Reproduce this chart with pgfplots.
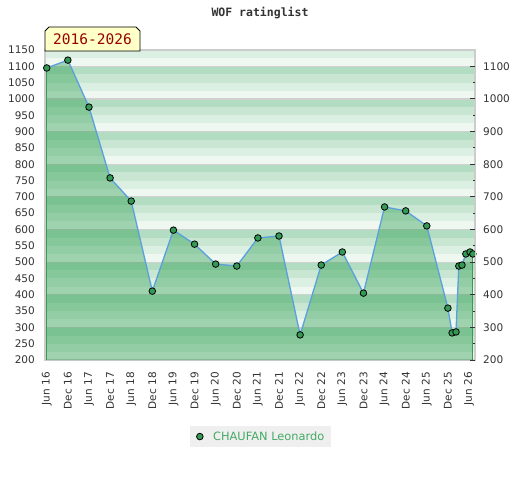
\documentclass[border=0pt]{standalone}
\usepackage{pgfplots}
\pgfplotsset{compat=1.18}
\usepackage{fontspec}
\setmainfont{DejaVu Sans}
\newfontfamily\monofont{DejaVu Sans Mono}
\definecolor{bandA}{HTML}{EFF7F1}
\definecolor{bandB}{HTML}{DCEFE3}
\definecolor{bandC}{HTML}{C8E6D2}
\definecolor{bandD}{HTML}{B3DDC3}
\definecolor{gridgray}{HTML}{D0D0D0}
\definecolor{axisgray}{HTML}{CCCCCC}
\definecolor{labelgray}{HTML}{333333}
\definecolor{areafill}{RGB}{30,152,65}
\definecolor{edgegreen}{HTML}{3A9A50}
\definecolor{lineblue}{HTML}{5AA0DC}
\definecolor{markgreen}{HTML}{339955}
\definecolor{legendbg}{HTML}{EFEFEF}
\definecolor{legendgreen}{HTML}{44AA66}
\definecolor{boxyellow}{HTML}{FFFFC8}
\definecolor{darkred}{HTML}{990000}
\pgfplotstableread{
m r
0 1095
6 1119
12 975
18 758
24 687
30 411
36 598
42 555
48 494
54 488
60 574
66 580
72 277
78 491
84 531
90 405
96 669
102 657
108 611
114 359
115.2 283
116.3 286
117.1 488
118 491
119.1 525
120.3 531
121.1 525
}\ratings
\begin{document}
\begin{tikzpicture}[x=1pt,y=1pt]
\useasboundingbox (0,0) rectangle (520,480);
% background stripes
\foreach \k in {200,225,...,1125}{
  \pgfmathsetmacro\ya{120+(\k-200)/950*310}
  \pgfmathsetmacro\yb{120+(\k-175)/950*310}
  \pgfmathtruncatemacro\mm{mod(\k,100)}
  \ifnum\mm=0 \def\bc{bandA}\fi
  \ifnum\mm=25 \def\bc{bandB}\fi
  \ifnum\mm=50 \def\bc{bandC}\fi
  \ifnum\mm=75 \def\bc{bandD}\fi
  \fill[\bc] (45,\ya) rectangle (475,\yb);
}
\foreach \k in {300,400,...,1100}{
  \pgfmathsetmacro\ya{120+(\k-200)/950*310}
  \draw[gridgray, line width=1.2pt] (45,\ya) -- (475,\ya);
}
\begin{axis}[
  at={(45pt,120pt)}, anchor=south west,
  scale only axis, width=430pt, height=310pt,
  xmin=-0.5, xmax=121.7, ymin=200, ymax=1150,
  xtick={0,6,...,120},
  xticklabels={Jun 16,Dec 16,Jun 17,Dec 17,Jun 18,Dec 18,Jun 19,Dec 19,Jun 20,Dec 20,Jun 21,Dec 21,Jun 22,Dec 22,Jun 23,Dec 23,Jun 24,Dec 24,Jun 25,Dec 25,Jun 26},
  ytick={200,250,...,1150},
  /pgf/number format/1000 sep={},
  /pgf/number format/assume math mode=true,
  axis line style={draw=axisgray, line width=1.2pt},
  tick style={draw=none},
  major tick length=0pt, minor tick length=0pt,
  ticklabel style={font=\fontsize{10.5}{12}\selectfont, text=labelgray},
  xticklabel style={rotate=90, anchor=east, inner sep=0pt},
  xticklabel shift=12pt,
  yticklabel style={anchor=east, inner sep=0pt},
  yticklabel shift=10pt,
  clip mode=individual,
  legend image code/.code={\draw[#1] plot coordinates {(0pt,0pt)};},
  legend style={at={(0.501,-0.247)}, anchor=center, fill=legendbg, draw=none,
    font=\fontsize{11.4}{13}\selectfont, text=legendgreen, inner xsep=7pt, inner ysep=3pt,
    nodes={inner xsep=0pt},
    /tikz/every odd column/.append style={column sep=10pt}},
]
\addplot[fill=areafill, fill opacity=0.38, draw=none, forget plot] table[x=m,y=r]{\ratings} \closedcycle;
\addplot[edgegreen, line width=1pt, forget plot] coordinates {(0,200) (0,1095)};
\addplot[edgegreen, line width=1pt, forget plot] coordinates {(121.1,200) (121.1,525)};
\addplot[lineblue, line width=1.3pt, forget plot] table[x=m,y=r]{\ratings};
\addplot[only marks, mark=*, mark size=3.3pt, mark options={fill=markgreen, draw=black, line width=0.8pt}] table[x=m,y=r]{\ratings};
\addlegendentry{CHAUFAN Leonardo}
\end{axis}
\begin{axis}[
  at={(45pt,120pt)}, anchor=south west,
  scale only axis, width=430pt, height=310pt,
  xmin=-0.5, xmax=121.7, ymin=200, ymax=1150,
  axis x line=none,
  axis y line*=right,
  axis line style={draw=axisgray, line width=1pt},
  ytick={200,300,...,1100},
  minor ytick={250,350,...,1050},
  /pgf/number format/1000 sep={},
  /pgf/number format/assume math mode=true,
  tick align=inside,
  major tick length=5pt, minor tick length=2.5pt,
  tick style={draw=labelgray, line width=1pt},
  ticklabel style={font=\fontsize{10.5}{12}\selectfont, text=labelgray},
  yticklabel style={anchor=west, inner sep=0pt},
  yticklabel shift=8pt,
]
\addplot[draw=none] coordinates {(0,200)};
\end{axis}
% title
\node[font=\monofont\bfseries\fontsize{11.5}{13}\selectfont, text=labelgray] at (260,467) {WOF ratinglist};
% period box
\draw[fill=boxyellow, draw=black, line width=0.9pt] (45,429) -- (45,449) -- (49,453) -- (136,453) -- (140,449) -- (140,429) -- cycle;
\node[font=\monofont\fontsize{14.5}{16}\selectfont, text=darkred] at (92.5,440.5) {2016-2026};
\end{tikzpicture}
\end{document}
